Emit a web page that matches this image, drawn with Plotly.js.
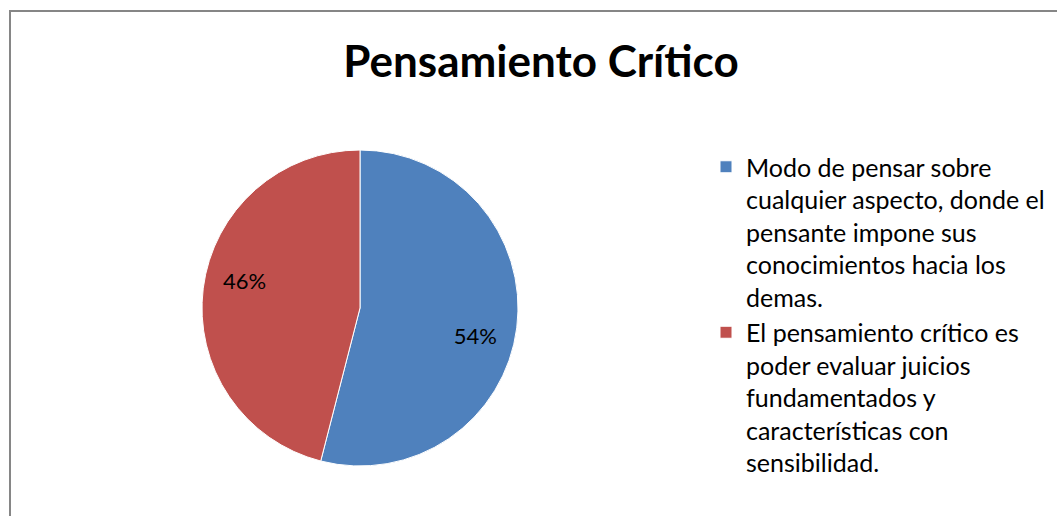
<!DOCTYPE html>
<html>
<head>
<meta charset="utf-8">
<script src="https://cdn.plot.ly/plotly-3.0.1.min.js"></script>
<style>
html,body{margin:0;padding:0;background:#fff;}
#chart{width:1057px;height:516px;}
</style>
</head>
<body>
<div id="chart"></div>
<script>
const categories = [
  "Modo de pensar sobre<br>cualquier aspecto, donde el<br>pensante impone sus<br>conocimientos hacia los<br>demas.",
  "El pensamiento crítico es<br>poder evaluar juicios<br>fundamentados y<br>características con<br>sensibilidad."
];
const values = [54, 46];
const colors = ["#4F81BD", "#C0504D"];
const chartTitle = "Pensamiento Crítico";

const W = 1057, H = 516;
const font = "Lato, 'Open Sans', sans-serif";
const pieDomain = {x: [202/W, 518/W], y: [50/H, 366/H]};

const pieTrace = {
  type: "pie",
  labels: categories,
  values: values,
  sort: false,
  direction: "clockwise",
  rotation: 0,
  marker: {colors: colors, line: {color: "#ffffff", width: 1}},
  textinfo: "none",
  hoverinfo: "label+percent",
  domain: pieDomain
};

// transparent ring that carries the percentage labels at ~3/4 of the radius
const labelTrace = {
  type: "pie",
  labels: categories,
  values: values,
  sort: false,
  direction: "clockwise",
  rotation: 6,
  hole: 0.5,
  showlegend: false,
  marker: {colors: ["rgba(0,0,0,0)", "rgba(0,0,0,0)"], line: {width: 0}},
  texttemplate: "%{percent:.0%}",
  textposition: "inside",
  insidetextorientation: "horizontal",
  textfont: {family: font, size: 22, color: "#000000"},
  hoverinfo: "skip",
  domain: pieDomain
};

const layout = {
  width: W, height: H,
  margin: {l: 0, r: 0, t: 0, b: 0},
  paper_bgcolor: "#ffffff",
  title: {
    text: "<b>" + chartTitle + "</b>",
    font: {family: font, size: 44, color: "#000000"},
    x: 541/W, xanchor: "center",
    y: 1 - 62/H, yanchor: "middle"
  },
  showlegend: true,
  legend: {
    x: 706/W, xanchor: "left",
    y: 1 - 144/H, yanchor: "top",
    valign: "top",
    font: {family: font, size: 25, color: "#000000"},
    itemwidth: 30,
    bgcolor: "rgba(0,0,0,0)"
  },
  shapes: [{
    type: "rect", xref: "paper", yref: "paper",
    x0: 10/W, x1: 1.2, y0: -0.2, y1: 1 - 11/H,
    line: {color: "#868686", width: 2}
  }]
};

Plotly.newPlot("chart", [pieTrace, labelTrace], layout, {displayModeBar: false, staticPlot: true});
</script>
</body>
</html>
